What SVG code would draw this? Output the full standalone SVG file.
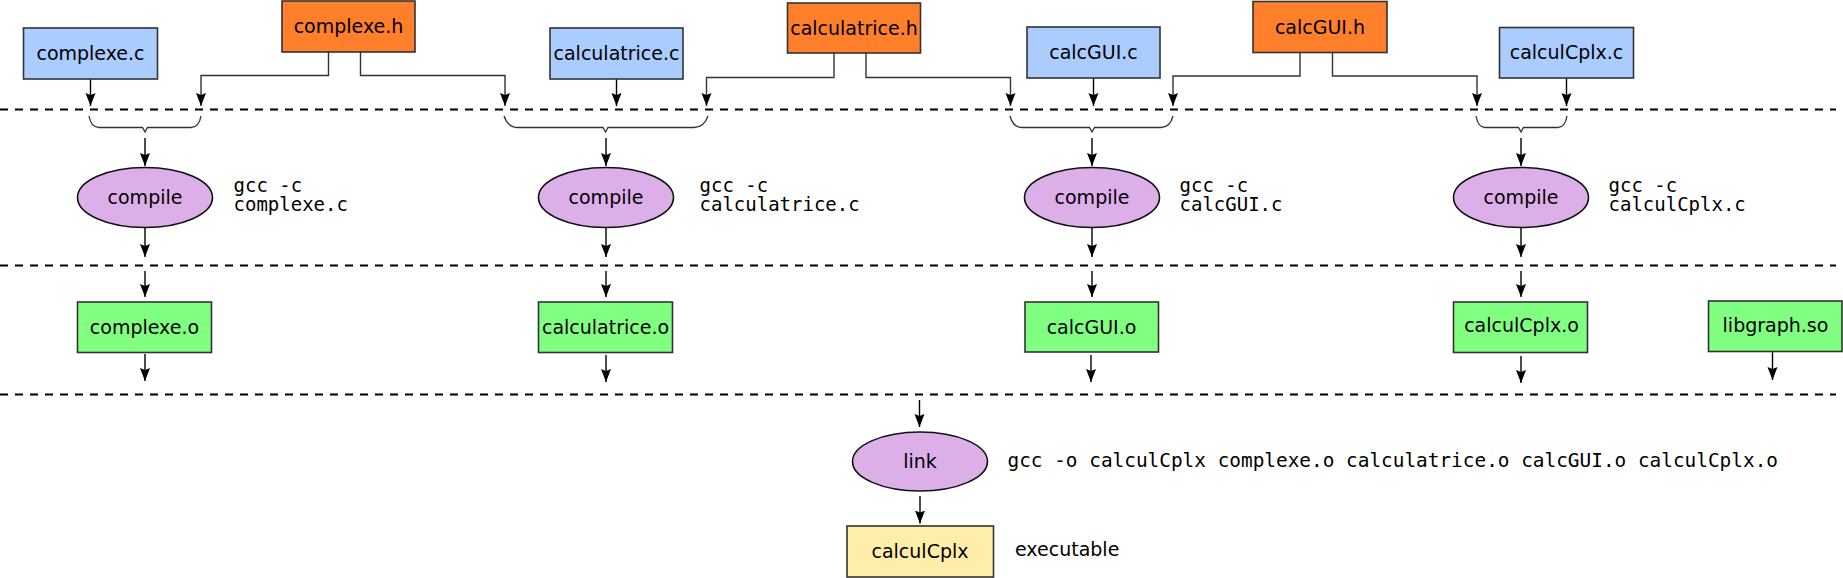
<svg xmlns="http://www.w3.org/2000/svg" width="1843" height="578" viewBox="0 0 1843 578">
<style>
.box{stroke:#333;stroke-width:1.6}
.src{fill:#aaccff}
.hdr{fill:#ff7f2a}
.obj{fill:#80ff80}
.exe{fill:#ffeeaa}
.op{fill:#ddafe9;stroke:#111;stroke-width:1.6}
.lbl{font-family:"DejaVu Sans",sans-serif;font-size:19px;fill:#000;text-anchor:middle}
.cmd{font-family:"DejaVu Sans Mono",monospace;font-size:19px;fill:#000}
.lcmd{font-family:"DejaVu Sans Mono",monospace;font-size:19.4px;fill:#000}
.txt{font-family:"DejaVu Sans",sans-serif;font-size:19px;fill:#000}
.arr{fill:none;stroke:#000;stroke-width:1.4;marker-end:url(#ah)}
.con{fill:none;stroke:#333;stroke-width:1.4;marker-end:url(#ah)}
.dash{fill:none;stroke:#000;stroke-width:2.2;stroke-dasharray:8,7}
.brace{fill:none;stroke:#333;stroke-width:1.3}
</style>
<defs>
<marker id="ah" markerUnits="userSpaceOnUse" markerWidth="14" markerHeight="11" refX="13" refY="5" orient="auto">
<path d="M0,0 L13,5 L0,10 L2,5 z" fill="#000"/>
</marker>
</defs>
<rect width="1843" height="578" fill="#fff"/>

<g id="separators">
<line class="dash" x1="0" y1="109.5" x2="1836" y2="109.5"/>
<line class="dash" x1="0" y1="265.5" x2="1836" y2="265.5"/>
<line class="dash" x1="0" y1="394.5" x2="1836" y2="394.5"/>
</g>

<g id="connectors">
<line class="arr" x1="90.5" y1="79" x2="90.5" y2="106"/>
<line class="arr" x1="616.5" y1="79" x2="616.5" y2="106"/>
<line class="arr" x1="1093.5" y1="78" x2="1093.5" y2="106"/>
<line class="arr" x1="1566.5" y1="78" x2="1566.5" y2="106"/>
<path class="con" d="M328.5,52 V75.5 H201 V106"/>
<path class="con" d="M360.5,52 V75.5 H505 V106"/>
<path class="con" d="M834,53 V77.5 H706.5 V106"/>
<path class="con" d="M866,53 V77.5 H1010.5 V106"/>
<path class="con" d="M1300,52 V76 H1173 V106"/>
<path class="con" d="M1332.5,52 V76 H1477 V106"/>
<path class="brace" d="M89,116 Q91,127.5 99,127.5 H142.5 L145,132 L147.5,127.5 H191 Q199,127.5 201,116"/>
<path class="brace" d="M504,116 Q508,127.5 518,127.5 H603 L605.5,132 L608,127.5 H694 Q704,127.5 708,116"/>
<path class="brace" d="M1010,116 Q1013,127.5 1022,127.5 H1089.5 L1092,132 L1094.5,127.5 H1161 Q1170,127.5 1173,116"/>
<path class="brace" d="M1476,116 Q1478,127.5 1485,127.5 H1518.5 L1521,132 L1523.5,127.5 H1558 Q1565,127.5 1567,116"/>
<line class="arr" x1="145" y1="138" x2="145" y2="166"/>
<line class="arr" x1="606" y1="138" x2="606" y2="166"/>
<line class="arr" x1="1092" y1="138" x2="1092" y2="166"/>
<line class="arr" x1="1521" y1="138" x2="1521" y2="166"/>
<line class="arr" x1="145" y1="228" x2="145" y2="257"/>
<line class="arr" x1="606" y1="228" x2="606" y2="257"/>
<line class="arr" x1="1092" y1="228" x2="1092" y2="257"/>
<line class="arr" x1="1521" y1="228" x2="1521" y2="257"/>
<line class="arr" x1="145" y1="271" x2="145" y2="297"/>
<line class="arr" x1="606" y1="271" x2="606" y2="297"/>
<line class="arr" x1="1092" y1="271" x2="1092" y2="297"/>
<line class="arr" x1="1521" y1="271" x2="1521" y2="297"/>
<line class="arr" x1="145" y1="354" x2="145" y2="381"/>
<line class="arr" x1="606" y1="355" x2="606" y2="382"/>
<line class="arr" x1="1091" y1="355" x2="1091" y2="382"/>
<line class="arr" x1="1521" y1="356" x2="1521" y2="383"/>
<line class="arr" x1="1772.5" y1="352" x2="1772.5" y2="380"/>
<line class="arr" x1="919.5" y1="400" x2="919.5" y2="427"/>
<line class="arr" x1="920" y1="496" x2="920" y2="523.5"/>
</g>

<g id="complexe_c"><rect class="box src" x="23.5" y="28" width="134" height="51"/><text class="lbl" x="90.5" y="60">complexe.c</text></g>
<g id="complexe_h"><rect class="box hdr" x="282" y="1" width="133" height="51"/><text class="lbl" x="348.5" y="33">complexe.h</text></g>
<g id="calculatrice_c"><rect class="box src" x="550" y="28" width="133" height="51"/><text class="lbl" x="616.5" y="60">calculatrice.c</text></g>
<g id="calculatrice_h"><rect class="box hdr" x="787.5" y="3" width="133" height="50"/><text class="lbl" x="854" y="34.5">calculatrice.h</text></g>
<g id="calcGUI_c"><rect class="box src" x="1027" y="27" width="133" height="51"/><text class="lbl" x="1093.5" y="59">calcGUI.c</text></g>
<g id="calcGUI_h"><rect class="box hdr" x="1253" y="1.5" width="134" height="51"/><text class="lbl" x="1320" y="33.5">calcGUI.h</text></g>
<g id="calculCplx_c"><rect class="box src" x="1499.5" y="27.5" width="134" height="50.5"/><text class="lbl" x="1566.5" y="59">calculCplx.c</text></g>

<g id="compile1"><ellipse class="op" cx="145" cy="197.5" rx="67.5" ry="30"/><text class="lbl" x="145" y="204">compile</text></g>
<g id="compile2"><ellipse class="op" cx="606" cy="197.5" rx="67.5" ry="30"/><text class="lbl" x="606" y="204">compile</text></g>
<g id="compile3"><ellipse class="op" cx="1092" cy="197.5" rx="67.5" ry="30"/><text class="lbl" x="1092" y="204">compile</text></g>
<g id="compile4"><ellipse class="op" cx="1521" cy="197.5" rx="67.5" ry="30"/><text class="lbl" x="1521" y="204">compile</text></g>

<g id="cmd1"><text class="cmd" x="233.5" y="191.5">gcc -c</text><text class="cmd" x="233.5" y="210.5">complexe.c</text></g>
<g id="cmd2"><text class="cmd" x="699.5" y="192">gcc -c</text><text class="cmd" x="699.5" y="211">calculatrice.c</text></g>
<g id="cmd3"><text class="cmd" x="1179.5" y="192">gcc -c</text><text class="cmd" x="1179.5" y="211">calcGUI.c</text></g>
<g id="cmd4"><text class="cmd" x="1608.5" y="191.5">gcc -c</text><text class="cmd" x="1608.5" y="210.5">calculCplx.c</text></g>

<g id="complexe_o"><rect class="box obj" x="77.5" y="302" width="134" height="50.5"/><text class="lbl" x="144.5" y="333.5">complexe.o</text></g>
<g id="calculatrice_o"><rect class="box obj" x="538.5" y="302" width="134" height="50.5"/><text class="lbl" x="605.5" y="333.5">calculatrice.o</text></g>
<g id="calcGUI_o"><rect class="box obj" x="1025" y="302" width="133.5" height="50"/><text class="lbl" x="1091.5" y="333.5">calcGUI.o</text></g>
<g id="calculCplx_o"><rect class="box obj" x="1453.5" y="302" width="134" height="50.5"/><text class="lbl" x="1521.5" y="332">calculCplx.o</text></g>
<g id="libgraph_so"><rect class="box obj" x="1708.5" y="301" width="133.5" height="50.5"/><text class="lbl" x="1775.5" y="332">libgraph.so</text></g>

<g id="link"><ellipse class="op" cx="920" cy="461.5" rx="67.5" ry="29.5"/><text class="lbl" x="920" y="468">link</text></g>
<g id="link_cmd"><text class="lcmd" x="1007.5" y="466.5">gcc -o calculCplx complexe.o calculatrice.o calcGUI.o calculCplx.o</text></g>

<g id="calculCplx_exe"><rect class="box exe" x="847" y="526" width="146.5" height="51"/><text class="lbl" x="920" y="557.5">calculCplx</text></g>
<g id="executable_label"><text class="txt" x="1015" y="555.5">executable</text></g>
</svg>
